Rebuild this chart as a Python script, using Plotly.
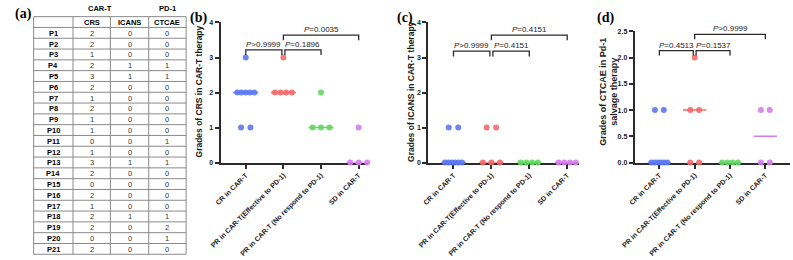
import plotly.graph_objects as go
from collections import Counter
import statistics

W, H = 793, 260

# ---------------- data ----------------
patients = ["P1", "P2", "P3", "P4", "P5", "P6", "P7", "P8", "P9", "P10", "P11",
            "P12", "P13", "P14", "P15", "P16", "P17", "P18", "P19", "P20", "P21"]
crs = [2, 2, 1, 2, 3, 2, 1, 2, 1, 1, 0, 1, 3, 2, 0, 2, 1, 2, 2, 0, 2]
icans = [0, 0, 0, 1, 1, 0, 0, 0, 0, 0, 0, 0, 1, 0, 0, 0, 0, 1, 0, 0, 0]
ctcae = [0, 0, 0, 1, 1, 0, 0, 0, 0, 0, 1, 0, 1, 0, 0, 0, 0, 1, 2, 1, 0]
table_header = ["", "CRS", "ICANS", "CTCAE"]

categories = ["CR in CAR-T", "PR in CAR-T(Effective to PD-1)",
              "PR in CAR-T (No respond to PD-1)", "SD in CAR-T"]

crs_cr = [3, 2, 2, 2, 2, 2, 1, 1]
crs_pr_eff = [3, 2, 2, 2, 2]
crs_pr_no = [2, 1, 1, 1]
crs_sd = [1, 0, 0, 0]

icans_cr = [1, 1, 0, 0, 0, 0, 0, 0]
icans_pr_eff = [1, 1, 0, 0, 0]
icans_pr_no = [0, 0, 0, 0]
icans_sd = [0, 0, 0, 0]

ctcae_cr = [1, 1, 0, 0, 0, 0, 0, 0]
ctcae_pr_eff = [2, 1, 1, 0, 0]
ctcae_pr_no = [0, 0, 0, 0]
ctcae_sd = [1, 1, 0, 0]

compare_pairs = [(0, 1), (1, 2), (1, 3)]
crs_p = ["P>0.9999", "P=0.1896", "P=0.0035"]
icans_p = ["P>0.9999", "P=0.4151", "P=0.4151"]
ctcae_p = ["P=0.4513", "P=0.1537", "P>0.9999"]

colors = ["#5c78f2", "#f26a6a", "#62d862", "#d67dec"]
FONT = "Arial, Liberation Sans, sans-serif"
SERIF = "Times New Roman, Liberation Serif, serif"


def swarm(vals):
    counts = Counter(vals)
    seen = Counter()
    offs = []
    for v in vals:
        n = counts[v]
        s = 0 if n == 1 else min(0.25, 0.45 / (n - 1))
        offs.append((seen[v] - (n - 1) / 2) * s)
        seen[v] += 1
    return offs


def px_x(p):
    return p / W


def px_y(p):
    return 1 - p / H


def ptext(text, x, y, size, family=FONT, bold=False, color="black", **kw):
    t = "<b>%s</b>" % text if bold else text
    d = dict(text=t, x=px_x(x), y=px_y(y), xref="paper", yref="paper",
             xanchor="center", yanchor="middle", showarrow=False,
             font=dict(family=family, size=size, color=color))
    d.update(kw)
    return d


panels = [
    dict(groups=[crs_cr, crs_pr_eff, crs_pr_no, crs_sd], pvals=crs_p,
         xd=[211, 361], ytop=19, yr=[0, 4], yt=[0, 1, 2, 3, 4], fmt="d",
         xr=[-0.67, 3.25], lv=[3.22, 3.22, 3.64], leg=0.15,
         title="Grades of CRS in CAR-T therapy", tx=189, tsize=8.5, label="(b)", lx=189),
    dict(groups=[icans_cr, icans_pr_eff, icans_pr_no, icans_sd], pvals=icans_p,
         xd=[422, 575], ytop=19, yr=[0, 4], yt=[0, 1, 2, 3, 4], fmt="d",
         xr=[-0.67, 3.3], lv=[3.18, 3.18, 3.64], leg=0.15,
         title="Grades of ICANS in CAR-T therapy", tx=404, tsize=8.5, label="(c)", lx=399),
    dict(groups=[ctcae_cr, ctcae_pr_eff, ctcae_pr_no, ctcae_sd], pvals=ctcae_p,
         xd=[632, 790], ytop=28, yr=[0, 2.5], yt=[0, 0.5, 1, 1.5, 2, 2.5], fmt=".1f",
         xr=[-0.7, 3.7], lv=[2.13, 2.13, 2.44], leg=0.09,
         title="Grades of CTCAE in Pd-1<br>salvage therapy", tx=605, tsize=9, label="(d)", lx=602),
]

fig = go.Figure()
annotations = []
shapes = []

# ---------------- table (a) ----------------
col_edges = [21, 61, 99, 138, 176]
tbl_top, row_h = 13, 11.1
n_rows = len(patients) + 1
row_edges = [tbl_top + i * row_h for i in range(n_rows + 1)]
for yy in row_edges:
    shapes.append(dict(type="line", xref="paper", yref="paper",
                       x0=px_x(col_edges[0]), x1=px_x(col_edges[-1]), y0=px_y(yy), y1=px_y(yy),
                       line=dict(color="#8a8a8a", width=1)))
for xx in col_edges:
    shapes.append(dict(type="line", xref="paper", yref="paper",
                       x0=px_x(xx), x1=px_x(xx), y0=px_y(row_edges[0]), y1=px_y(row_edges[-1]),
                       line=dict(color="#8a8a8a", width=1)))
columns = [patients, crs, icans, ctcae]
for c in range(4):
    cx = (col_edges[c] + col_edges[c + 1]) / 2
    if table_header[c]:
        annotations.append(ptext(table_header[c], cx, (row_edges[0] + row_edges[1]) / 2 + 0.5, 7.5, bold=True))
    for r, v in enumerate(columns[c]):
        cy = (row_edges[r + 1] + row_edges[r + 2]) / 2 + 0.5
        annotations.append(ptext(str(v), cx, cy, 7.5, bold=(c == 0),
                                 color="black" if c == 0 else "#333333"))
annotations.append(ptext("(a)", 11, 10, 14, family=SERIF, bold=True))
annotations.append(ptext("CAR-T", 88, 5, 7.5, bold=True))
annotations.append(ptext("PD-1", 157, 5, 7.5, bold=True))

# ---------------- dot plots (b)-(d) ----------------
for k, pn in enumerate(panels):
    xa = "x" if k == 0 else "x%d" % (k + 1)
    ya = "y" if k == 0 else "y%d" % (k + 1)
    for g, vals in enumerate(pn["groups"]):
        offs = swarm(vals)
        fig.add_trace(go.Scatter(
            x=[g + o for o in offs], y=vals, mode="markers", xaxis=xa, yaxis=ya,
            marker=dict(size=6, color=colors[g], opacity=0.9, line=dict(width=0)),
            cliponaxis=False, hoverinfo="y"))
        med = statistics.median(vals)
        fig.add_trace(go.Scatter(
            x=[g - 0.33, g + 0.33], y=[med, med], mode="lines", xaxis=xa, yaxis=ya,
            line=dict(color=colors[g], width=1.5), cliponaxis=False, hoverinfo="skip"))
    for (a, b), lv, pt in zip(compare_pairs, pn["lv"], pn["pvals"]):
        x0 = a + (0.04 if (a, b) == (1, 2) else 0)
        x1 = b - (0.04 if (a, b) == (0, 1) else 0)
        lg = pn["leg"]
        shapes.append(dict(type="path", xref=xa, yref=ya,
                           path="M %f,%f L %f,%f L %f,%f L %f,%f" % (x0, lv - lg, x0, lv, x1, lv, x1, lv - lg),
                           line=dict(color="#2b2b2b", width=1.3)))
        annotations.append(dict(text="<i>P</i>" + pt[1:], x=(x0 + x1) / 2, y=lv,
                                xref=xa, yref=ya, xanchor="center", yanchor="bottom",
                                showarrow=False, yshift=-1,
                                font=dict(family=FONT, size=8, color="#1a1a1a")))
    annotations.append(ptext(pn["title"], pn["tx"], 90, pn["tsize"], bold=True, color="#1a1a1a",
                             textangle=-90))
    annotations.append(ptext(pn["label"], pn["lx"], 14, 14, family=SERIF, bold=True))
    axis_common = dict(showgrid=False, zeroline=False, showline=True, linecolor="#2b2b2b",
                       linewidth=1.8, ticks="outside", ticklen=4, tickwidth=1.5,
                       tickcolor="#2b2b2b", layer="below traces",
                       tickfont=dict(family=FONT, size=7, color="#1a1a1a", weight="bold"))
    fig.update_layout(**{
        ("xaxis" if k == 0 else "xaxis%d" % (k + 1)): dict(
            axis_common, domain=[px_x(pn["xd"][0]), px_x(pn["xd"][1])], range=pn["xr"],
            anchor=ya, tickvals=list(range(len(categories))), ticktext=categories,
            tickangle=-45, fixedrange=True),
        ("yaxis" if k == 0 else "yaxis%d" % (k + 1)): dict(
            axis_common, domain=[px_y(163), px_y(pn["ytop"])], range=pn["yr"],
            anchor=xa, tickvals=pn["yt"], tickformat=pn["fmt"], fixedrange=True),
    })

fig.update_layout(width=W, height=H, margin=dict(l=0, r=0, t=0, b=0),
                  paper_bgcolor="white", plot_bgcolor="white", showlegend=False,
                  annotations=annotations, shapes=shapes,
                  font=dict(family=FONT, color="#1a1a1a"))

fig.write_html("out.html", config={"displayModeBar": False},
               post_script="document.body.style.margin='0';document.body.style.overflow='hidden';")
